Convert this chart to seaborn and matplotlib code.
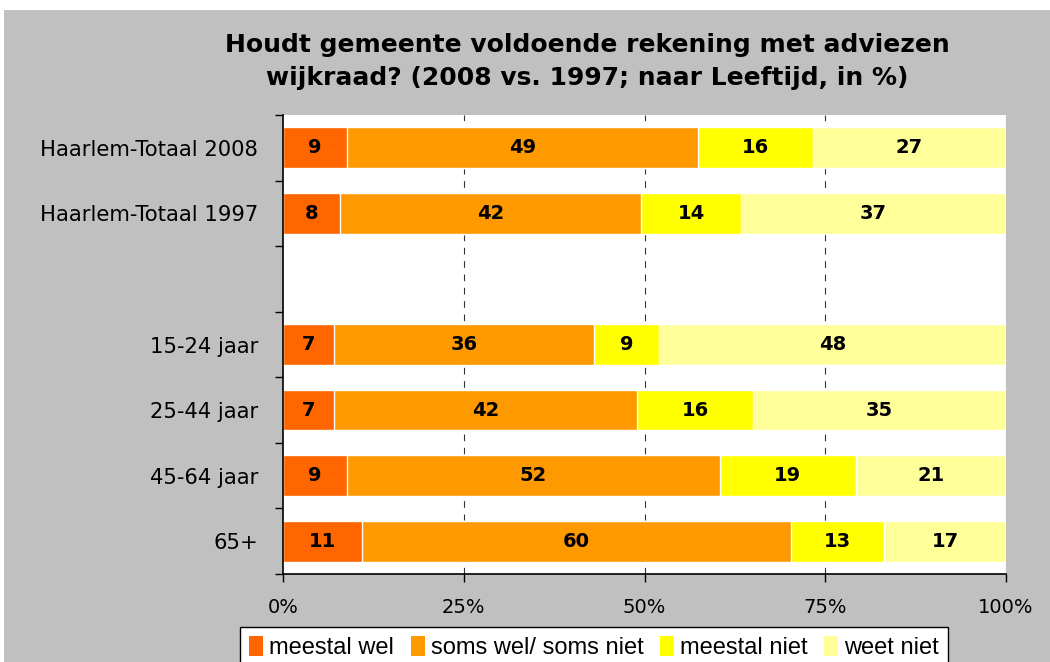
import numpy as np
import pandas as pd
import seaborn as sns
import matplotlib.pyplot as plt
from matplotlib.patches import Rectangle, Patch
from matplotlib.ticker import FuncFormatter

# --- data ---
groepen = ["Haarlem-Totaal 2008", "Haarlem-Totaal 1997", " ",
           "15-24 jaar", "25-44 jaar", "45-64 jaar", "65+"]
meestal_wel = [9, 8, 0, 7, 7, 9, 11]
soms_wel = [49, 42, 0, 36, 42, 52, 60]
meestal_niet = [16, 14, 0, 9, 16, 19, 13]
weet_niet = [27, 37, 0, 48, 35, 21, 17]

reeksen = ["meestal wel", "soms wel/ soms niet", "meestal niet", "weet niet"]
kleuren = ["#FF6600", "#FF9900", "#FFFF00", "#FFFF99"]

df = pd.DataFrame({"groep": groepen, "meestal wel": meestal_wel,
                   "soms wel/ soms niet": soms_wel,
                   "meestal niet": meestal_niet, "weet niet": weet_niet})
totaal = df[reeksen].sum(axis=1).replace(0, 1)
aandeel = df[reeksen].div(totaal, axis=0)
cum = aandeel.cumsum(axis=1)

sns.set_theme(style="white")
plt.rcParams['font.family'] = ['DejaVu Sans']
plt.rcParams.update({"text.color": "black", "xtick.color": "black",
                     "ytick.color": "black", "axes.labelcolor": "black"})

fig = plt.figure(figsize=(10.5, 6.62), dpi=100)
fig.patch.set_facecolor("white")
fig.add_artist(Rectangle((4 / 1050, 0), 1, 652 / 662, transform=fig.transFigure,
                         facecolor="#C0C0C0", edgecolor="none", zorder=-10))

ax = fig.add_axes([283 / 1050, 1 - 574 / 662, 723 / 1050, 459 / 662])
ax.set_facecolor("white")

# stacked bars: draw cumulative totals from the back layer to the front
for i in reversed(range(len(reeksen))):
    sns.barplot(x=cum[reeksen[i]], y=df["groep"], order=groepen, orient="h",
                color=kleuren[i], saturation=1, width=0.62, ax=ax, zorder=3)

# value labels
for r in range(len(groepen)):
    start = 0
    for i, s in enumerate(reeksen):
        w = aandeel.loc[r, s]
        v = df.loc[r, s]
        if v > 0:
            ax.text(start + w / 2, r, str(v), ha="center", va="center",
                    fontsize=14, fontweight="bold", color="black", zorder=5)
        start += w

ax.set_xlim(0, 1)
ax.set_ylim(len(groepen) - 0.5, -0.5)
ax.set_xlabel("")
ax.set_ylabel("")
ax.set_xticks([0, 0.25, 0.5, 0.75, 1.0])
ax.xaxis.set_major_formatter(FuncFormatter(lambda x, p: f"{x * 100:.0f}%"))
for xv in [0.25, 0.5, 0.75]:
    ax.axvline(xv, color="#333333", lw=0.8, ls=(0, (6, 6)), zorder=1)
ax.axvline(1.0, color="#888888", lw=0.8, zorder=1)

ax.tick_params(axis="x", which="major", direction="out", length=6, width=1,
               color="black", labelsize=14, pad=11, bottom=True)
ax.tick_params(axis="y", which="major", length=0, labelsize=15.2, pad=18)
ax.set_yticks(np.arange(-0.5, len(groepen), 1), minor=True)
ax.tick_params(axis="y", which="minor", direction="out", length=6, width=1,
               color="black", left=True)

for side in ["top", "right"]:
    ax.spines[side].set_visible(False)
for side in ["left", "bottom"]:
    ax.spines[side].set_color("black")
    ax.spines[side].set_linewidth(1.2)
    ax.spines[side].set_zorder(10)

fig.text(0.559, 1 - 45 / 662, "Houdt gemeente voldoende rekening met adviezen",
         ha="center", va="center", fontsize=18, fontweight="bold")
fig.text(0.559, 1 - 78 / 662, "wijkraad? (2008 vs. 1997; naar Leeftijd, in %)",
         ha="center", va="center", fontsize=18, fontweight="bold")

handles = [Patch(facecolor=c, edgecolor="none", label=s) for s, c in zip(reeksen, kleuren)]
leg = fig.legend(handles=handles, loc="upper center", bbox_to_anchor=(594 / 1050, 1 - 627 / 662),
                 ncol=4, frameon=True, handlelength=0.6, handleheight=0.9,
                 handletextpad=0.25, columnspacing=0.7, borderpad=0.4, borderaxespad=0,
                 fancybox=False, prop={"family": ["Liberation Sans", "DejaVu Sans"], "size": 17})
leg.get_frame().set_edgecolor("black")
leg.get_frame().set_facecolor("white")
leg.get_frame().set_alpha(1)
leg.get_frame().set_linewidth(1.0)

fig.savefig("out.png", dpi=100)
